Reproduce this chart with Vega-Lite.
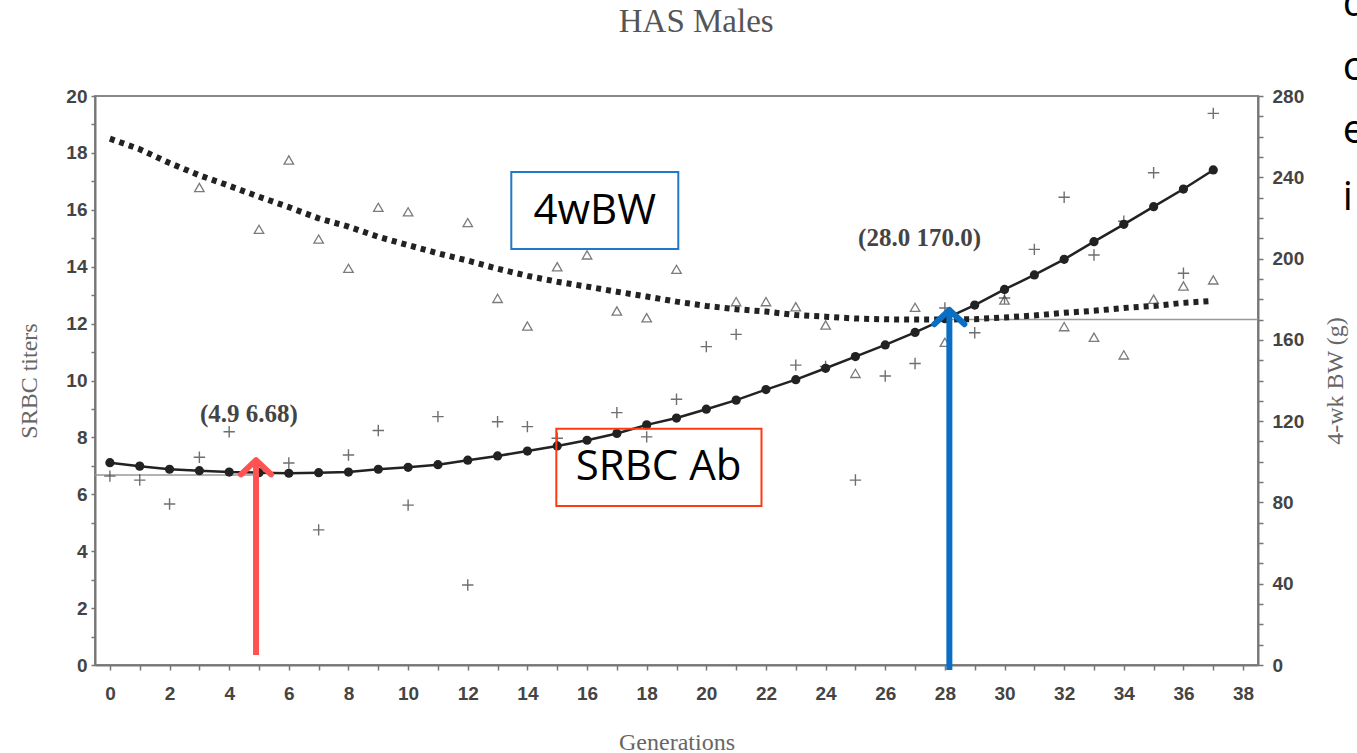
{
  "$schema": "https://vega.github.io/schema/vega-lite/v6.json",
  "width": 1163,
  "height": 569,
  "autosize": {"type": "none"},
  "padding": {"left": 95, "top": 96, "right": 99, "bottom": 88},
  "background": "white",
  "config": {
    "view": {"stroke": "#888", "strokeWidth": 2},
    "axis": {"grid": false, "domainColor": "#777", "domainWidth": 2, "tickColor": "#777", "tickWidth": 1.5, "labelColor": "#444", "labelFont": "Liberation Sans", "labelFontSize": 19, "labelFontWeight": "bold", "titleFont": "Liberation Serif", "titleFontWeight": "normal", "titleColor": "#666", "titleFontSize": 24}
  },
  "datasets": {
    "srbcFit": [
      {"g": 0, "v": 7.11}, {"g": 1, "v": 6.99}, {"g": 2, "v": 6.88}, {"g": 3, "v": 6.83}, {"g": 4, "v": 6.78},
      {"g": 5, "v": 6.76}, {"g": 6, "v": 6.74}, {"g": 7, "v": 6.76}, {"g": 8, "v": 6.78}, {"g": 9, "v": 6.88},
      {"g": 10, "v": 6.95}, {"g": 11, "v": 7.04}, {"g": 12, "v": 7.2}, {"g": 13, "v": 7.35}, {"g": 14, "v": 7.52},
      {"g": 15, "v": 7.7}, {"g": 16, "v": 7.9}, {"g": 17, "v": 8.14}, {"g": 18, "v": 8.44}, {"g": 19, "v": 8.68},
      {"g": 20, "v": 8.99}, {"g": 21, "v": 9.31}, {"g": 22, "v": 9.68}, {"g": 23, "v": 10.03}, {"g": 24, "v": 10.43},
      {"g": 25, "v": 10.84}, {"g": 26, "v": 11.25}, {"g": 27, "v": 11.69}, {"g": 28, "v": 12.17}, {"g": 29, "v": 12.65},
      {"g": 30, "v": 13.2}, {"g": 31, "v": 13.71}, {"g": 32, "v": 14.26}, {"g": 33, "v": 14.88}, {"g": 34, "v": 15.49},
      {"g": 35, "v": 16.11}, {"g": 36, "v": 16.73}, {"g": 37, "v": 17.4}
    ],
    "srbcObs": [
      {"g": 0, "v": 6.64}, {"g": 1, "v": 6.5}, {"g": 2, "v": 5.66}, {"g": 3, "v": 7.3}, {"g": 4, "v": 8.2},
      {"g": 6, "v": 7.1}, {"g": 7, "v": 4.75}, {"g": 8, "v": 7.38}, {"g": 9, "v": 8.24}, {"g": 10, "v": 5.62},
      {"g": 11, "v": 8.73}, {"g": 12, "v": 2.81}, {"g": 13, "v": 8.55}, {"g": 14, "v": 8.38}, {"g": 15, "v": 7.97},
      {"g": 17, "v": 8.87}, {"g": 18, "v": 8.02}, {"g": 19, "v": 9.34}, {"g": 20, "v": 11.19}, {"g": 21, "v": 11.62},
      {"g": 23, "v": 10.54}, {"g": 24, "v": 10.49}, {"g": 25, "v": 6.5}, {"g": 26, "v": 10.16}, {"g": 27, "v": 10.6},
      {"g": 28, "v": 12.55}, {"g": 29, "v": 11.68}, {"g": 30, "v": 12.9}, {"g": 31, "v": 14.61}, {"g": 32, "v": 16.44},
      {"g": 33, "v": 14.41}, {"g": 34, "v": 15.6}, {"g": 35, "v": 17.3}, {"g": 36, "v": 13.77}, {"g": 37, "v": 19.39}
    ],
    "bwFit": [
      {"g": 0, "w": 259}, {"g": 1, "w": 253.8}, {"g": 2, "w": 247}, {"g": 3, "w": 241}, {"g": 4, "w": 235.8},
      {"g": 5, "w": 230.4}, {"g": 6, "w": 225.3}, {"g": 7, "w": 219.8}, {"g": 8, "w": 215.7}, {"g": 9, "w": 210.7},
      {"g": 10, "w": 206.6}, {"g": 11, "w": 202.6}, {"g": 12, "w": 199}, {"g": 13, "w": 195}, {"g": 14, "w": 191.5},
      {"g": 15, "w": 188.6}, {"g": 16, "w": 186.2}, {"g": 17, "w": 183.7}, {"g": 18, "w": 181.3}, {"g": 19, "w": 178.8},
      {"g": 20, "w": 176.7}, {"g": 21, "w": 175.1}, {"g": 22, "w": 173.9}, {"g": 23, "w": 172.2}, {"g": 24, "w": 171.4},
      {"g": 25, "w": 170.5}, {"g": 26, "w": 170.1}, {"g": 27, "w": 170}, {"g": 28, "w": 170}, {"g": 29, "w": 170.2},
      {"g": 30, "w": 171}, {"g": 31, "w": 172}, {"g": 32, "w": 173.3}, {"g": 33, "w": 174.3}, {"g": 34, "w": 175.7},
      {"g": 35, "w": 176.7}, {"g": 36, "w": 178.2}, {"g": 37, "w": 179.2}
    ],
    "bwObs": [
      {"g": 3, "w": 235}, {"g": 5, "w": 214.4}, {"g": 6, "w": 248.5}, {"g": 7, "w": 209.6}, {"g": 8, "w": 195.2},
      {"g": 9, "w": 225.2}, {"g": 10, "w": 223}, {"g": 12, "w": 217.7}, {"g": 13, "w": 180.4}, {"g": 14, "w": 166.8},
      {"g": 15, "w": 196}, {"g": 16, "w": 201.8}, {"g": 17, "w": 174.2}, {"g": 18, "w": 170.9}, {"g": 19, "w": 194.7},
      {"g": 21, "w": 178.8}, {"g": 22, "w": 178.8}, {"g": 23, "w": 176.3}, {"g": 24, "w": 167.3}, {"g": 25, "w": 143.5},
      {"g": 27, "w": 176}, {"g": 28, "w": 158.8}, {"g": 30, "w": 179.6}, {"g": 32, "w": 166.5}, {"g": 33, "w": 161.3},
      {"g": 34, "w": 152.6}, {"g": 35, "w": 180}, {"g": 36, "w": 186.5}, {"g": 37, "w": 189.5}
    ]
  },
  "encoding": {
    "x": {
      "field": "g", "type": "quantitative",
      "scale": {"domain": [-0.5, 38.5], "nice": false, "zero": false},
      "axis": {
        "title": "Generations", "values": [0,1,2,3,4,5,6,7,8,9,10,11,12,13,14,15,16,17,18,19,20,21,22,23,24,25,26,27,28,29,30,31,32,33,34,35,36,37,38],
        "labelExpr": "datum.value % 2 == 0 ? datum.label : ''", "tickSize": 5, "labelPadding": 14, "titlePadding": 27, "labelFlush": false
      }
    }
  },
  "layer": [
    {
      "encoding": {
        "y": {
          "field": "w", "type": "quantitative",
          "scale": {"domain": [0, 280], "nice": false, "zero": true},
          "axis": {
            "orient": "right", "title": "4-wk BW (g)", "titleAngle": -90, "titleBaseline": "bottom",
            "values": [0,10,20,30,40,50,60,70,80,90,100,110,120,130,140,150,160,170,180,190,200,210,220,230,240,250,260,270,280],
            "labelExpr": "datum.value % 40 == 0 ? datum.label : ''", "tickSize": 5, "labelPadding": 9, "titlePadding": 44, "labelFlush": false
          }
        }
      },
      "layer": [
        {
          "data": {"values": [{"g": 28, "g2": 38.5, "w": 170}]},
          "mark": {"type": "rule", "color": "#999", "strokeWidth": 1.5},
          "encoding": {"x2": {"field": "g2"}}
        },
        {
          "data": {"name": "bwFit"},
          "mark": {"type": "line", "color": "#222", "strokeWidth": 6, "strokeDash": [5, 5], "strokeCap": "butt"}
        },
        {
          "data": {"name": "bwObs"},
          "mark": {"type": "point", "shape": "triangle-up", "filled": false, "stroke": "#444", "strokeWidth": 1.3, "size": 90}
        }
      ]
    },
    {
      "encoding": {
        "y": {
          "field": "v", "type": "quantitative",
          "scale": {"domain": [0, 20], "nice": false, "zero": true},
          "axis": {
            "orient": "left", "title": "SRBC titers",
            "values": [0,1,2,3,4,5,6,7,8,9,10,11,12,13,14,15,16,17,18,19,20],
            "labelExpr": "datum.value % 2 == 0 ? datum.label : ''", "tickSize": 4, "labelPadding": 4, "titlePadding": 24, "labelFlush": false
          }
        }
      },
      "layer": [
        {
          "data": {"values": [{"g": -0.5, "g2": 4.9, "v": 6.68}]},
          "mark": {"type": "rule", "color": "#999", "strokeWidth": 1.5},
          "encoding": {"x2": {"field": "g2"}}
        },
        {
          "data": {"name": "srbcObs"},
          "mark": {"type": "point", "shape": "M-1,0L1,0M0,-1L0,1", "filled": false, "stroke": "#333", "strokeWidth": 1.4, "size": 130}
        },
        {
          "data": {"name": "srbcFit"},
          "mark": {"type": "line", "color": "#222", "strokeWidth": 2.5, "point": {"filled": true, "color": "#222", "size": 85}}
        },
        {
          "data": {"values": [{"g": 13.46, "g2": 19.06, "v": 17.33, "v2": 14.62, "col": "#1f78c8"}, {"g": 14.97, "g2": 21.85, "v": 8.3, "v2": 5.59, "col": "#ff3a12"}]},
          "mark": {"type": "rect", "filled": false, "strokeWidth": 2},
          "encoding": {
            "x2": {"field": "g2"}, "y2": {"field": "v2"},
            "stroke": {"field": "col", "type": "nominal", "scale": null}
          }
        },
        {
          "data": {"values": [{"g": 16.26, "v": 15.96, "t": "4wBW"}, {"g": 18.4, "v": 6.96, "t": "SRBC Ab"}]},
          "mark": {"type": "text", "font": "Open Sans", "fontSize": 42, "color": "#000", "align": "center", "baseline": "middle"},
          "encoding": {"text": {"field": "t"}}
        },
        {
          "data": {"values": [{"g": 4.66, "v": 8.82, "t": "(4.9 6.68)"}, {"g": 27.15, "v": 15.0, "t": "(28.0 170.0)"}]},
          "mark": {"type": "text", "font": "Liberation Serif", "fontSize": 25, "fontWeight": "bold", "color": "#444", "align": "center", "baseline": "middle"},
          "encoding": {"text": {"field": "t"}}
        },
        {
          "data": {"values": [{"g": 19.66, "v": 22.6, "t": "HAS Males"}]},
          "mark": {"type": "text", "font": "Liberation Serif", "fontSize": 33, "color": "#555", "align": "center", "baseline": "middle"},
          "encoding": {"text": {"field": "t"}}
        },
        {
          "data": {"values": [{"g": 41.34, "v": 22.81, "t": "d"}, {"g": 41.34, "v": 20.56, "t": "c"}, {"g": 41.34, "v": 18.35, "t": "e"}, {"g": 41.34, "v": 15.99, "t": "i"}]},
          "mark": {"type": "text", "font": "Open Sans", "fontSize": 40, "color": "#000", "align": "left", "baseline": "alphabetic"},
          "encoding": {"text": {"field": "t"}}
        },
        {
          "data": {"values": [{"g": 4.9, "v": 0.35, "v2": 7.1, "col": "#ff5252"}, {"g": 28.15, "v": -0.18, "v2": 12.4, "col": "#0a6fc4"}]},
          "mark": {"type": "rule", "strokeWidth": 6},
          "encoding": {
            "y2": {"field": "v2"},
            "color": {"field": "col", "type": "nominal", "scale": null}
          }
        },
        {
          "data": {"values": [{"g": 4.9, "v": 7.2, "col": "#ff5252"}, {"g": 28.15, "v": 12.48, "col": "#0a6fc4"}]},
          "mark": {"type": "point", "shape": "M-1,0.95L0,0L1,0.95", "filled": false, "strokeWidth": 6, "size": 900, "strokeCap": "round", "strokeJoin": "round", "opacity": 1},
          "encoding": {
            "stroke": {"field": "col", "type": "nominal", "scale": null}
          }
        }
      ]
    }
  ],
  "resolve": {"scale": {"y": "independent"}, "axis": {"y": "independent"}}
}
